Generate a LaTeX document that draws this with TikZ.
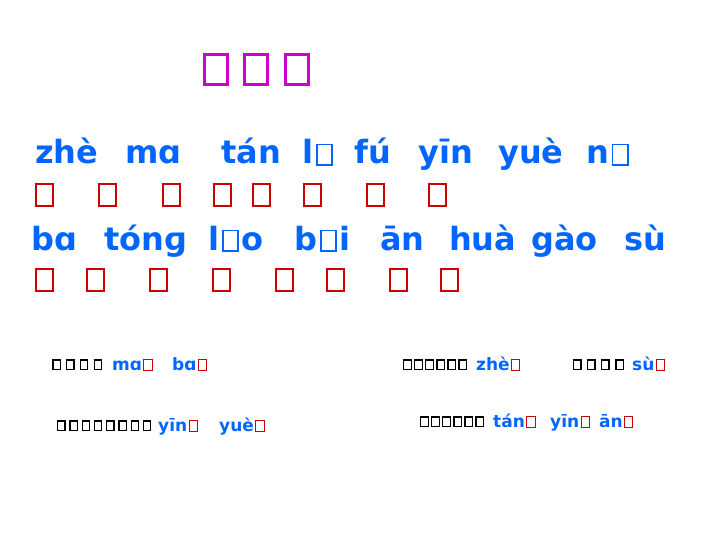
\documentclass[tikz,border=0pt]{standalone}
\usepackage{fontspec}
\usepackage{xcolor}
\usetikzlibrary{positioning}
\newfontfamily\pyfont{DejaVu Sans}
\definecolor{pyblue}{RGB}{0,102,255}
\definecolor{hzred}{RGB}{204,0,0}
\definecolor{ttlmag}{RGB}{204,0,204}
% missing glyph box, sized by the font in force
\def\tofurule{.06em}
\newcommand\tofu[1][.08em]{{\fboxsep=0pt\fboxrule=\tofurule\kern#1\fbox{\rule{0pt}{\dimexpr.7em-2\fboxrule\relax}\rule{\dimexpr.55em-2\fboxrule\relax}{0pt}}\kern#1}}
\newcommand\rtofu{\textcolor{hzred}{\tofu}}
\newcommand\tofus[2]{\foreach \j in {1,...,#1}{\tofu[#2]}}
\tikzstyle{pinyin}=[inner sep=0pt,anchor=base west,text=pyblue,font=\pyfont\bfseries\fontsize{32}{38}\selectfont]
\tikzstyle{hanzi}=[inner sep=0pt,anchor=base west,text=hzred,font=\fontsize{34}{40}\selectfont]
\begin{document}
\begin{tikzpicture}[x=1pt,y=-1pt,
  ttl/.style={inner sep=0pt,anchor=base west,text=ttlmag,font=\fontsize{47}{52}\selectfont},
  hint/.style={inner sep=0pt,anchor=base west,text=pyblue,font=\pyfont\bfseries\fontsize{17}{20}\selectfont},
  hintzi/.style={inner sep=0pt,anchor=base west,text=black,font=\fontsize{15.5}{18}\selectfont\def\tofurule{.08em}}]
\useasboundingbox[fill=white] (0,0) rectangle (720,540);

\node [ttl] (title) at (199,83) {\tofu\kern7pt\tofu\kern7pt\tofu};

% first line
\node [pinyin] (zhe) at (35,164) {zhè};
\node [pinyin] (ma)  at (125,164) {mɑ};
\node [pinyin] (tan) at (221,164) {tán};
\node [pinyin] (lv)  at (302,164) {l\tofu};
\node [pinyin] (fu)  at (354,164) {fú};
\node [pinyin] (yin) at (418,164) {yīn};
\node [pinyin] (yue) at (498,164) {yuè};
\node [pinyin] (ni)  at (586,164) {n\tofu};
\foreach \x [count=\i] in {35,98,162,213,252,303,366,428}
  \node [hanzi] (a\i) at ([xshift=-3pt]\x,205) {\tofu};

% second line
\node [pinyin] (ba)   at (31,250) {bɑ};
\node [pinyin] (tong) at (104,250) {tónɡ};
\node [pinyin] (lao)  at (208,250) {l\tofu o};
\node [pinyin] (bai)  at (294,250) {b\tofu i};
\node [pinyin] (an)   at (380,250) {ān};
\node [pinyin] (hua)  at (449,250) {huà};
\node [pinyin] (gao)  at (531,250) {gào};
\node [pinyin] (su)   at (624,250) {sù};
\foreach \x [count=\i] in {35,86,149,212,275,326,389,440}
  \node [hanzi] (b\i) at ([xshift=-3pt]\x,290) {\tofu};

% hints
\node [hintzi] (hA) at (49.5,369) {\tofus{4}{.17em}};
\node [hint] (maA) at (112,370) {mɑ\rtofu};
\node [hint] (baA) at (172,370) {bɑ\rtofu};

\node [hintzi] (hB) at (55,430) {\tofus{8}{.12em}};
\node [hint] (yinB) at (158,431) {yīn\rtofu};
\node [hint] (yueB) at (219,431) {yuè\rtofu};

\node [hintzi] (hC) at (401.8,369) {\tofus{6}{.08em}};
\node [hint] (zheC) at (476,370) {zhè\rtofu};
\node [hintzi] (hD) at (570,369) {\tofus{4}{.18em}};
\node [hint] (suD) at (632,370) {sù\rtofu};

\node [hintzi] (hE) at (418.8,426) {\tofus{6}{.08em}};
\node [hint] (tanE) at (493,427) {tán\rtofu};
\node [hint] (yinE) at (550,427) {yīn\rtofu};
\node [hint] (anE)  at (599,427) {ān\rtofu};
\end{tikzpicture}
\end{document}
